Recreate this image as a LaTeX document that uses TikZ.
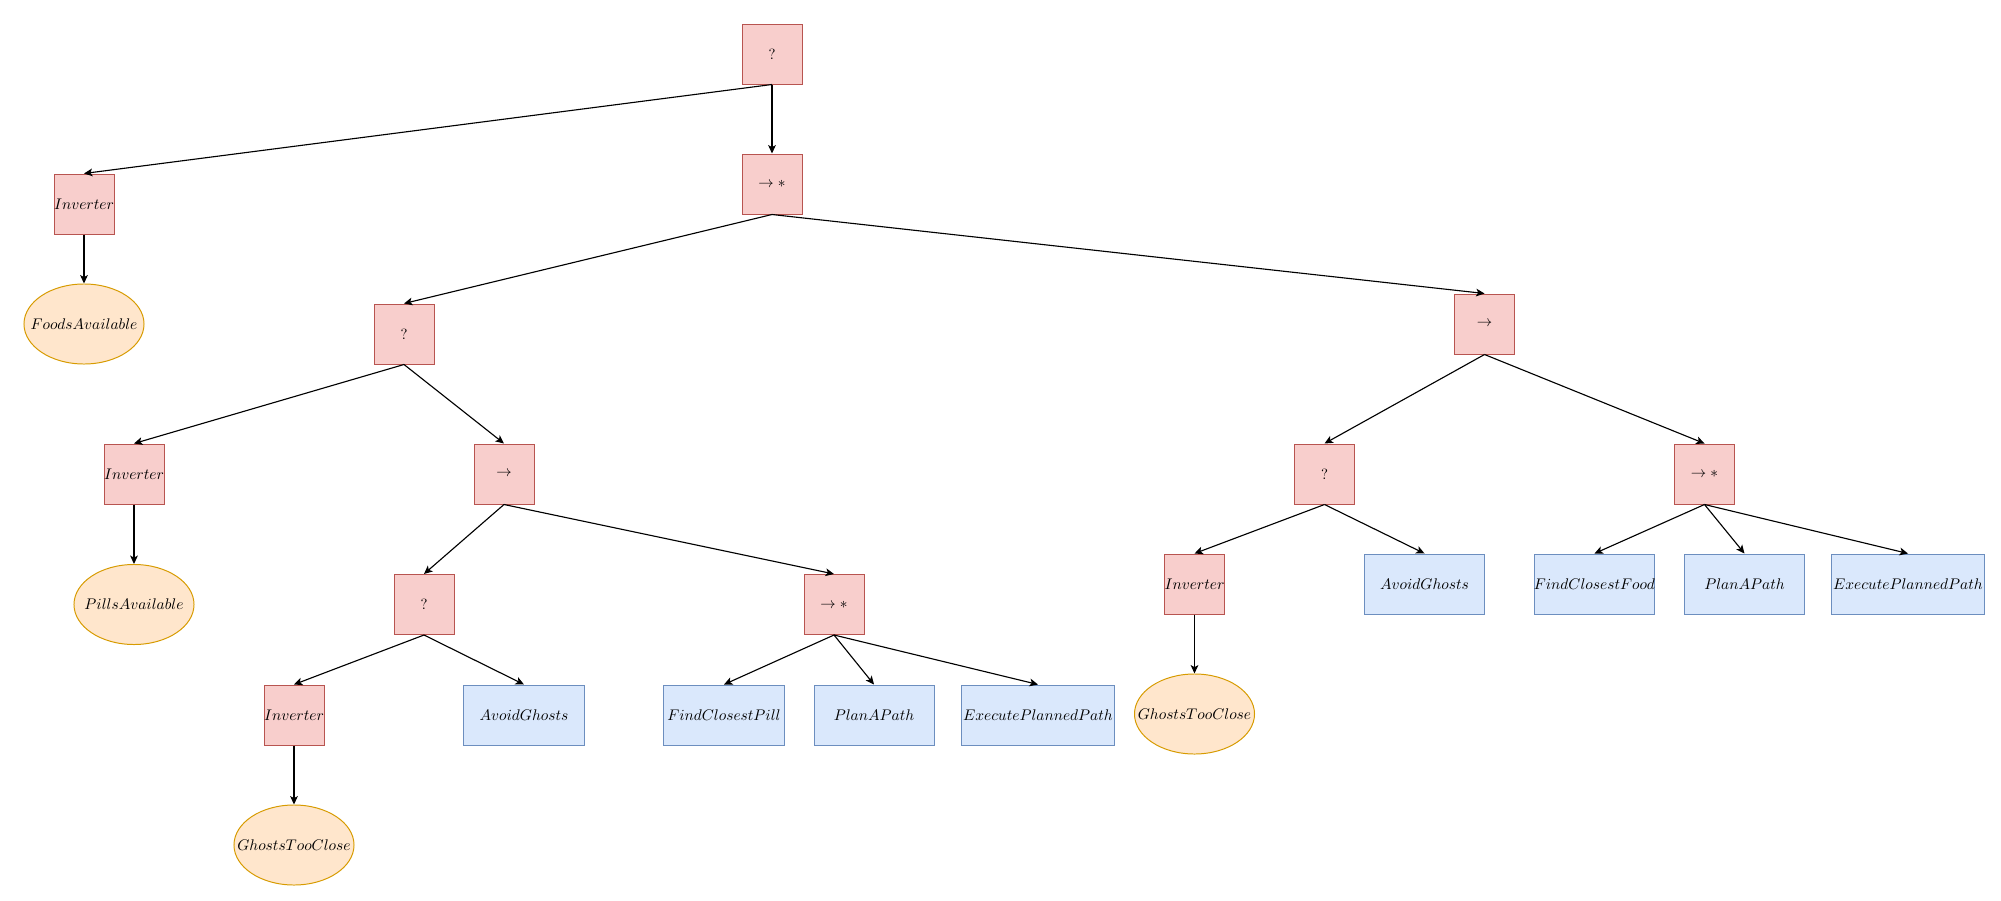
\documentclass[tikz,border=0pt]{standalone}
\usetikzlibrary{arrows.meta,shapes.geometric}
\definecolor{redfill}{HTML}{F8CECC}
\definecolor{redline}{HTML}{B85450}
\definecolor{bluefill}{HTML}{DAE8FC}
\definecolor{blueline}{HTML}{6C8EBF}
\definecolor{orfill}{HTML}{FFE6CC}
\definecolor{orline}{HTML}{D79B00}
\newcommand{\zw}[1]{\makebox[0pt]{#1}}
\begin{document}
\begin{tikzpicture}[x=0.025cm,y=-0.025cm,
  every node/.style={font=\fontsize{10.5pt}{12pt}\selectfont},
  ctrl/.style={draw=redline,fill=redfill,line width=0.7pt,minimum width=1.5cm,minimum height=1.5cm,inner sep=0pt},
  act/.style={draw=blueline,fill=bluefill,line width=0.7pt,minimum width=3cm,minimum height=1.5cm,inner sep=0pt},
  actw/.style={act,minimum width=3.825cm},
  cond/.style={ellipse,draw=orline,fill=orfill,line width=0.7pt,minimum width=3cm,minimum height=2cm,inner sep=0pt},
  edge/.style={line width=0.8pt,-{Stealth[length=6pt,width=5.5pt,inset=1.5pt]}}]
\useasboundingbox (0,0) rectangle (2001,901);
\node[ctrl] (root) at (772,54) {?};
\node[ctrl] (inv1) at (84,204) {\zw{$Inverter$}};
\node[cond] (foods) at (84,324) {\zw{$FoodsAvailable$}};
\node[ctrl] (seq1) at (772,184) {$\rightarrow *$};
\node[ctrl] (sel2) at (404,334) {?};
\node[ctrl] (seqR) at (1484.5,324) {$\rightarrow$};
\node[ctrl] (inv2) at (134,474) {\zw{$Inverter$}};
\node[cond] (pills) at (134,604.5) {\zw{$PillsAvailable$}};
\node[ctrl] (seq2) at (504,474) {$\rightarrow$};
\node[ctrl] (sel3) at (424,604.5) {?};
\node[ctrl] (seqs3) at (834,604.5) {$\rightarrow *$};
\node[ctrl] (inv3) at (294,715) {\zw{$Inverter$}};
\node[cond] (ghosts1) at (294,845) {\zw{$GhostsTooClose$}};
\node[act] (avoid1) at (524,715) {$AvoidGhosts$};
\node[act] (findpill) at (724,715) {\zw{$FindClosestPill$}};
\node[act] (plan1) at (874,715) {$PlanAPath$};
\node[actw] (exec1) at (1038,715) {\zw{$ExecutePlannedPath$}};
\node[ctrl] (selR) at (1324.5,474) {?};
\node[ctrl] (seqsR) at (1704.5,474) {$\rightarrow *$};
\node[ctrl] (invR) at (1194.5,584) {\zw{$Inverter$}};
\node[cond] (ghostsR) at (1194.5,714) {\zw{$GhostsTooClose$}};
\node[act] (avoidR) at (1424.5,584) {$AvoidGhosts$};
\node[act] (findfood) at (1594.5,584) {\zw{$FindClosestFood$}};
\node[act] (plan2) at (1744.5,584) {$PlanAPath$};
\node[actw] (exec2) at (1908,584) {\zw{$ExecutePlannedPath$}};
\foreach \a/\b in {root/inv1,root/seq1,inv1/foods,seq1/sel2,seq1/seqR,
  sel2/inv2,sel2/seq2,inv2/pills,seq2/sel3,seq2/seqs3,sel3/inv3,sel3/avoid1,
  inv3/ghosts1,seqs3/findpill,seqs3/plan1,seqs3/exec1,seqR/selR,seqR/seqsR,
  selR/invR,selR/avoidR,invR/ghostsR,seqsR/findfood,seqsR/plan2,seqsR/exec2}
  \draw[edge] (\a.south) -- (\b.north);
\end{tikzpicture}
\end{document}
